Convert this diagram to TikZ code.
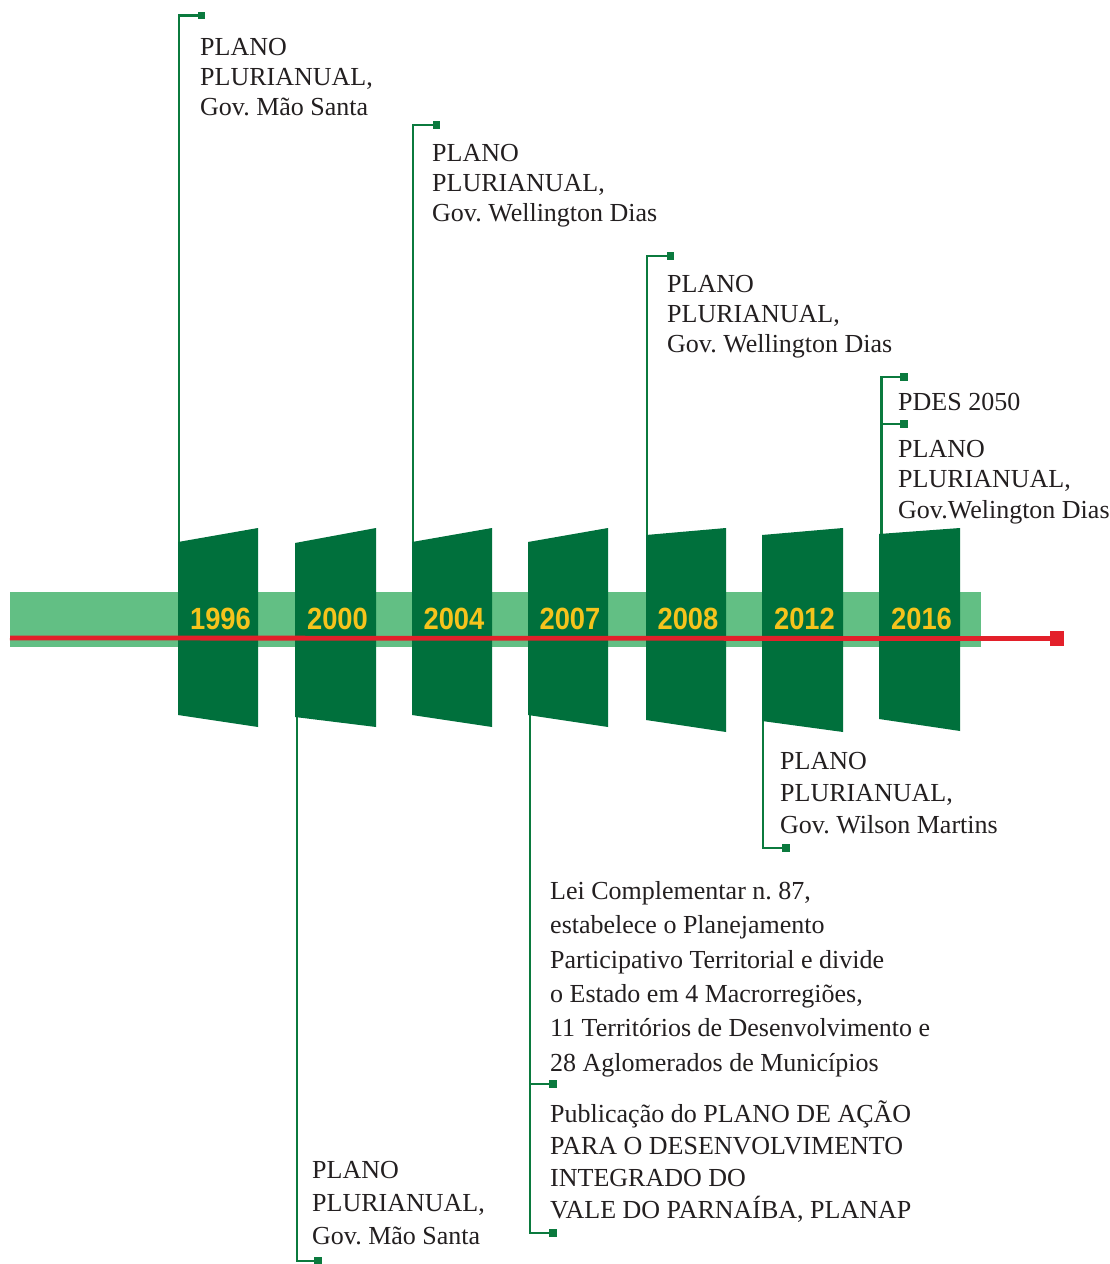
\documentclass[tikz,border=0pt]{standalone}
\usepackage{fontspec}
\setmainfont{Liberation Serif}
\newfontfamily\yearfont{Liberation Sans}
\definecolor{dkgreen}{HTML}{00703C}
\definecolor{lgreen}{HTML}{62BF84}
\definecolor{lnred}{HTML}{E3202A}
\definecolor{yrcol}{HTML}{F6C31C}
\definecolor{txtc}{HTML}{231F20}
\definecolor{conng}{HTML}{0B7A3E}
\begin{document}
\frenchspacing
\begin{tikzpicture}[x=1pt,y=-1pt,
 conn/.style={draw=conng, line width=2.2pt},
 sqr/.style={fill=conng, minimum size=7.5pt, inner sep=0pt, outer sep=0pt},
 redsq/.style={fill=lnred, minimum size=14.5pt, inner sep=0pt, outer sep=0pt},
 redline/.style={draw=lnred, line width=4.8pt},
 blk/.style={fill=dkgreen},
 yearlbl/.style={text=yrcol, font=\yearfont\bfseries\fontsize{30.7}{30}\selectfont, inner sep=0pt, anchor=base},
 lbl/.style={anchor=north west, inner sep=0pt, align=left, text=txtc, font=\frenchspacing\fontsize{26}{30}\selectfont},
]
\useasboundingbox (0,0) rectangle (1110,1264);
\fill[white] (0,0) rectangle (1110,1264);

% light band
\fill[lgreen] (10,592) rectangle (981,647);

% connector anchor points on the blocks
\coordinate (c1996) at (179,600);
\coordinate (c2000) at (297,650);
\coordinate (c2004) at (413,600);
\coordinate (c2007) at (530,650);
\coordinate (c2008) at (647,600);
\coordinate (c2012) at (763,650);
\coordinate (c2016) at (881.5,600);

% end squares
\node[sqr] (s1) at (201.5,15.5) {};
\node[sqr] (s2) at (436.5,125) {};
\node[sqr] (s3) at (670.5,256) {};
\node[sqr] (s4a) at (904,377) {};
\node[sqr] (s4b) at (904,424) {};
\node[sqr] (s5) at (786,848) {};
\node[sqr] (s6a) at (553,1084) {};
\node[sqr] (s6b) at (553,1233) {};
\node[sqr] (s7) at (318,1261) {};

% connectors
\draw[conn] (c1996) |- (s1.center);
\draw[conn] (c2004) |- (s2.center);
\draw[conn] (c2008) |- (s3.center);
\draw[conn] (c2016) |- (s4a.center);
\draw[conn] (c2016) |- (s4b.center);
\draw[conn] (c2012) |- (s5.center);
\draw[conn] (c2007) |- (s6b.center);
\draw[conn] (c2007) |- (s6a.center);
\draw[conn] (c2000) |- (s7.center);
\foreach \s in {s1,s2,s3,s4a,s4b,s5,s6a,s6b,s7} \node[sqr] at (\s) {};

% year blocks
\fill[blk] (178,542) -- (258,528) -- (258,727) -- (178,715) -- cycle;
\fill[blk] (295,543) -- (376,528) -- (376,727) -- (295,717) -- cycle;
\fill[blk] (412,542) -- (492,528) -- (492,727) -- (412,715) -- cycle;
\fill[blk] (528,542) -- (608,528) -- (608,727) -- (528,715) -- cycle;
\fill[blk] (646,535) -- (726,528) -- (726,732) -- (646,720) -- cycle;
\fill[blk] (762,535) -- (843,528) -- (843,732) -- (762,721) -- cycle;
\fill[blk] (879,534) -- (960,528) -- (960,731) -- (879,719) -- cycle;

% red axis
\coordinate (rstart) at (10,638);
\node[redsq] (rend) at (1057,638.5) {};
\draw[redline] (rstart) -- (rend.center);

% years
\node[yearlbl] (y1996) at (220.5,629) {\scalebox{0.89}[1]{1996}};
\node[yearlbl] (y2000) at (337.5,629) {\scalebox{0.89}[1]{2000}};
\node[yearlbl] (y2004) at (454,629) {\scalebox{0.89}[1]{2004}};
\node[yearlbl] (y2007) at (570,629) {\scalebox{0.89}[1]{2007}};
\node[yearlbl] (y2008) at (688,629) {\scalebox{0.89}[1]{2008}};
\node[yearlbl] (y2012) at (804.5,629) {\scalebox{0.89}[1]{2012}};
\node[yearlbl] (y2016) at (921.5,629) {\scalebox{0.89}[1]{2016}};

% labels
\node[lbl] (t1) at (200,35) {\rule{0pt}{20pt}PLANO\\PLURIANUAL,\\Gov. Mão Santa};
\node[lbl] (t2) at (432,141) {\rule{0pt}{20pt}PLANO\\PLURIANUAL,\\Gov. Wellington Dias};
\node[lbl] (t3) at (667,272.5) {\rule{0pt}{20pt}PLANO\\PLURIANUAL,\\Gov. Wellington Dias};
\node[lbl] (t4a) at (898,390) {\rule{0pt}{20pt}PDES 2050};
\node[lbl, font=\frenchspacing\fontsize{26}{30.5}\selectfont] (t4b) at (898,437) {\rule{0pt}{20pt}PLANO\\PLURIANUAL,\\Gov.Welington Dias};
\node[lbl, font=\frenchspacing\fontsize{26}{32}\selectfont] (t5) at (780,749) {\rule{0pt}{20pt}PLANO\\PLURIANUAL,\\Gov. Wilson Martins};
\node[lbl, font=\frenchspacing\fontsize{26}{34.4}\selectfont] (t6a) at (550,879) {\rule{0pt}{20pt}Lei Complementar n. 87,\\estabelece o Planejamento\\Participativo Territorial e divide\\o Estado em 4 Macrorregiões,\\11 Territórios de Desenvolvimento e\\28 Aglomerados de Municípios};
\node[lbl, font=\frenchspacing\fontsize{26}{32}\selectfont] (t6b) at (550,1101) {\rule{0pt}{20pt}Publicação do PLANO DE AÇÃO\\PARA O DESENVOLVIMENTO\\INTEGRADO DO\\VALE DO PARNAÍBA, PLANAP};
\node[lbl, font=\frenchspacing\fontsize{26}{33}\selectfont] (t7) at (312,1158) {\rule{0pt}{20pt}PLANO\\PLURIANUAL,\\Gov. Mão Santa};
\end{tikzpicture}
\end{document}
